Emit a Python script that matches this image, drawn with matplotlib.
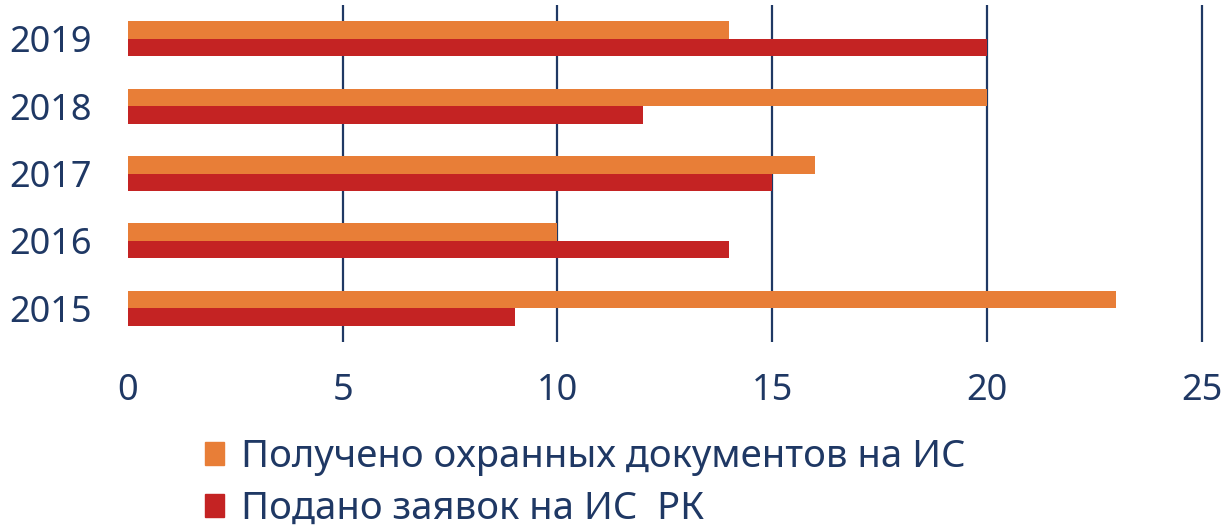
import matplotlib.pyplot as plt
import numpy as np
from matplotlib.patches import Patch

plt.rcParams['font.family'] = ['Noto Sans', 'DejaVu Sans']

years = ["2015", "2016", "2017", "2018", "2019"]
received = [23, 10, 16, 20, 14]
filed = [9, 14, 15, 12, 20]
labels = ["Получено охранных документов на ИС", "Подано заявок на ИС  РК"]

navy = "#1F3864"
orange = "#E87E37"
red = "#C42323"

fig = plt.figure(figsize=(12.29, 5.30), dpi=100)
ax = fig.add_axes([128 / 1229, 188 / 530, (1206 - 128) / 1229, 337 / 530])

y = np.arange(len(years))
h = 0.26
ax.barh(y + h / 2, received, height=h, color=orange, zorder=3)
ax.barh(y - h / 2, filed, height=h, color=red, zorder=3)

ax.set_xlim(0, 25.1)
ax.set_ylim(-0.5, 4.5)
ax.set_xticks([0, 5, 10, 15, 20, 25])
ax.set_yticks(y, years)

for xv in [5, 10, 15, 20, 25]:
    ax.axvline(xv, color=navy, lw=1.6, zorder=1)

for s in ax.spines.values():
    s.set_visible(False)
ax.tick_params(axis="both", length=0, labelsize=26, labelcolor=navy)
ax.tick_params(axis="y", pad=26)
ax.tick_params(axis="x", pad=22)

handles = [Patch(color=orange), Patch(color=red)]
fig.legend(handles, labels, loc="upper left", bbox_to_anchor=(205 / 1229, (530 - 438) / 530),
           frameon=False, fontsize=27.5, labelcolor=navy, handlelength=0.5, handleheight=0.55,
           handletextpad=0.45, labelspacing=0.36, borderaxespad=0, borderpad=0)

fig.savefig("out.png", dpi=100)
